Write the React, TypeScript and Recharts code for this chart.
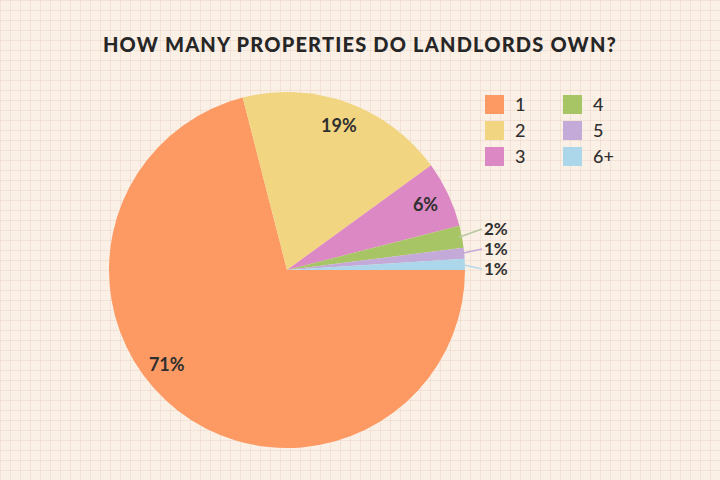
import React from "react";
import { Cell, Pie, PieChart } from "recharts";

const categories = ["1", "2", "3", "4", "5", "6+"];
const shares = [71, 19, 6, 2, 1, 1];
const sliceColors = ["#fd9a64", "#f1d580", "#dc88c4", "#a8c565", "#c3aad9", "#acd6ea"];
const lineColors = ["#fd9a64", "#f1d580", "#dc88c4", "#b9c9a0", "#c3aad9", "#b5d8ea"];

const data = categories.map((name, i) => ({ name, value: shares[i] }));

const RADIAN = Math.PI / 180;
const textColor = "#2f2f2f";
const labelFont = "Lato, 'Noto Sans', sans-serif";

// small slices get their label outside the pie, at these heights from the centre
const outsideY: Record<string, number> = { "4": -41, "5": -21, "6+": -1 };
const insideAngleShift: Record<string, number> = { "1": -14 };

function renderLabel(props: any) {
  const { cx, cy, midAngle, outerRadius, name, value, index } = props;
  if (name in outsideY) {
    const ex = cx + (outerRadius - 3) * Math.cos(-midAngle * RADIAN);
    const ey = cy + (outerRadius - 3) * Math.sin(-midAngle * RADIAN);
    const ly = cy + outsideY[name];
    const lx = cx + outerRadius + 17;
    return (
      <g key={`lbl-${name}`}>
        <path d={`M${ex},${ey} L${lx},${ly}`} stroke={lineColors[index]} strokeWidth={1.5} fill="none" />
        <text x={lx + 2} y={ly} dy="0.35em" fill={textColor} fontSize={17} fontFamily={labelFont} fontWeight={700}>
          {`${value}%`}
        </text>
      </g>
    );
  }
  const ang = (midAngle + (insideAngleShift[name] || 0)) * RADIAN;
  const r = outerRadius * 0.86;
  const x = cx + r * Math.cos(-ang);
  const y = cy + r * Math.sin(-ang);
  return (
    <text key={`lbl-${name}`} x={x} y={y} dy="0.35em" textAnchor="middle" fill={textColor} fontSize={18} fontFamily={labelFont} fontWeight={700}>
      {`${value}%`}
    </text>
  );
}

function LegendGrid() {
  const rows = 3;
  return (
    <div style={{ position: "absolute", left: 485, top: 94, width: 160, height: 80 }}>
      {categories.map((name, i) => {
        const col = Math.floor(i / rows);
        const row = i % rows;
        return (
          <div
            key={name}
            style={{
              position: "absolute",
              left: col * 78,
              top: row * 26,
              display: "flex",
              alignItems: "center",
              height: 20,
            }}
          >
            <span style={{ width: 19, height: 19, background: sliceColors[i], display: "inline-block" }} />
            <span style={{ marginLeft: 11, fontSize: 18, fontFamily: labelFont, color: textColor, fontWeight: 500 }}>
              {name}
            </span>
          </div>
        );
      })}
    </div>
  );
}

export default function App() {
  return (
    <div
      style={{
        position: "absolute",
        left: 0,
        top: 0,
        width: 720,
        height: 480,
        overflow: "hidden",
        backgroundColor: "#fbf0e6",
        backgroundImage:
          "linear-gradient(to right, rgba(222,190,170,0.28) 1px, transparent 1px), linear-gradient(to bottom, rgba(222,190,170,0.28) 1px, transparent 1px)",
        backgroundSize: "10px 10px",
      }}
    >
      <div
        style={{
          position: "absolute",
          top: 32,
          left: 0,
          width: 720,
          textAlign: "center",
          fontFamily: "Lato, 'Noto Sans', sans-serif",
          fontWeight: 900,
          fontSize: 20,
          letterSpacing: 1.2,
          color: "#262626",
        }}
      >
        HOW MANY PROPERTIES DO LANDLORDS OWN?
      </div>
      <PieChart width={720} height={480} margin={{ top: 0, right: 0, bottom: 0, left: 0 }} style={{ position: "absolute", left: 0, top: 0 }}>
        <Pie
          data={data}
          dataKey="value"
          nameKey="name"
          cx={287}
          cy={270}
          outerRadius={178}
          startAngle={0}
          endAngle={-360}
          stroke="none"
          label={renderLabel}
          labelLine={false}
          isAnimationActive={false}
        >
          {data.map((entry, i) => (
            <Cell key={entry.name} fill={sliceColors[i]} />
          ))}
        </Pie>
      </PieChart>
      <LegendGrid />
    </div>
  );
}
